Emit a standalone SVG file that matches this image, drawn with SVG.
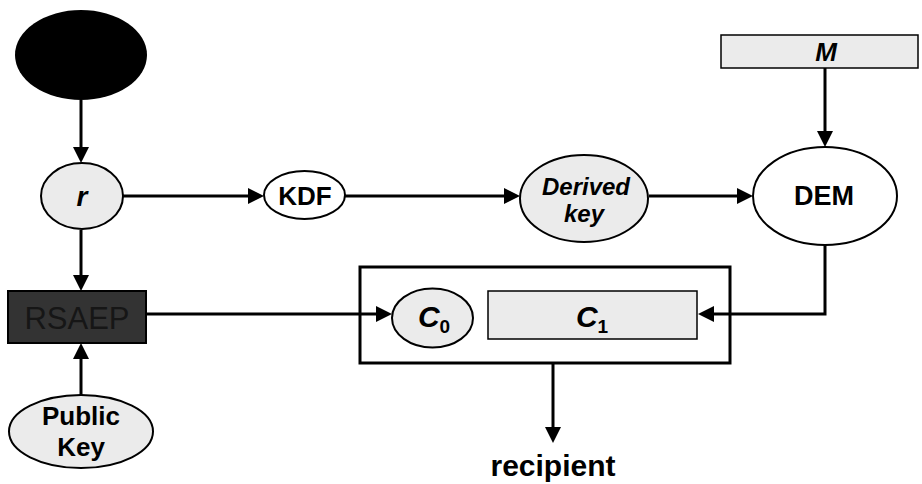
<svg xmlns="http://www.w3.org/2000/svg" width="922" height="484" viewBox="0 0 922 484">
  <defs>
    <marker id="arrow" viewBox="0 0 16 16" refX="8" refY="8" markerWidth="16" markerHeight="16" markerUnits="userSpaceOnUse" orient="auto">
      <path d="M0,0 L16,8 L0,16 z" fill="#000"/>
    </marker>
    <style>
      .edge { fill: none; stroke: #000; stroke-width: 3; marker-end: url(#arrow); }
      .node-grey { fill: #ebebeb; stroke: #000; stroke-width: 2; }
      .node-white { fill: #fff; stroke: #000; stroke-width: 2; }
      .bar { fill: #ebebeb; stroke: #000; stroke-width: 1.5; }
      .lbl { font-family: "Liberation Sans", Arial, sans-serif; font-weight: bold; text-anchor: middle; fill: #000; }
      .it { font-style: italic; }
    </style>
  </defs>

  <!-- random source -->
  <g id="source">
    <ellipse cx="81" cy="55" rx="66" ry="45" fill="#000"/>
  </g>

  <g id="node-r">
    <ellipse class="node-grey" cx="82" cy="196" rx="41" ry="33"/>
    <text class="lbl it" x="82" y="206" font-size="28">r</text>
  </g>

  <g id="node-kdf">
    <ellipse class="node-white" cx="304.5" cy="195" rx="40.5" ry="24"/>
    <text class="lbl" x="305" y="205" font-size="26">KDF</text>
  </g>

  <g id="node-derived-key">
    <ellipse class="node-grey" cx="584" cy="198.5" rx="64" ry="43.5"/>
    <text class="lbl it" x="586" y="195" font-size="24">Derived</text>
    <text class="lbl it" x="584" y="222" font-size="24">key</text>
  </g>

  <g id="node-m">
    <rect class="bar" x="721" y="35" width="197" height="33"/>
    <text class="lbl it" x="826" y="61" font-size="26">M</text>
  </g>

  <g id="node-dem">
    <ellipse class="node-white" cx="825" cy="196" rx="72" ry="49"/>
    <text class="lbl" x="824" y="205" font-size="27">DEM</text>
  </g>

  <g id="node-rsaep">
    <rect x="8" y="291" width="138" height="52" fill="#333" stroke="#000" stroke-width="2"/>
    <text x="77" y="329" font-family="Liberation Sans, Arial, sans-serif" font-size="31" text-anchor="middle" fill="#161616">RSAEP</text>
  </g>

  <g id="node-public-key">
    <ellipse class="node-grey" cx="81" cy="431.5" rx="72" ry="36.5"/>
    <text class="lbl" x="81" y="425" font-size="26">Public</text>
    <text class="lbl" x="81" y="456" font-size="26">Key</text>
  </g>

  <g id="node-ciphertext">
    <rect x="360" y="267" width="370" height="96" fill="#fff" stroke="#000" stroke-width="3"/>
    <ellipse class="node-grey" cx="432.5" cy="318" rx="40.5" ry="29.5"/>
    <text class="lbl it" x="434" y="327" font-size="30">C<tspan font-size="19" font-style="normal" dy="6">0</tspan></text>
    <rect class="bar" x="488" y="291" width="209" height="48"/>
    <text class="lbl it" x="592" y="327" font-size="30">C<tspan font-size="19" font-style="normal" dy="6">1</tspan></text>
  </g>

  <g id="node-recipient">
    <text class="lbl" x="553" y="476" font-size="30">recipient</text>
  </g>

  <!-- connectors -->
  <g id="connectors">
    <path class="edge" d="M81,100 L81,155"/>
    <path class="edge" d="M123,196 L256,196"/>
    <path class="edge" d="M345,196 L512,196"/>
    <path class="edge" d="M649,196 L745,196"/>
    <path class="edge" d="M825,68 L825,139"/>
    <path class="edge" d="M825,245 L825,314 L706,314"/>
    <path class="edge" d="M81,230 L81,283"/>
    <path class="edge" d="M81,395 L81,351"/>
    <path class="edge" d="M146,314 L384,314"/>
    <path class="edge" d="M553,363 L553,435"/>
  </g>
</svg>
